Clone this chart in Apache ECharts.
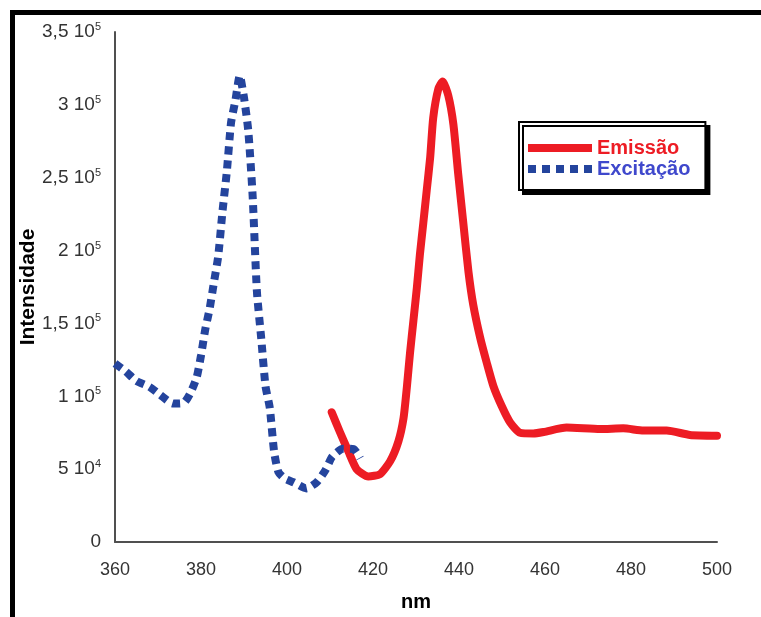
<!DOCTYPE html>
<html>
<head>
<meta charset="utf-8">
<script src="https://cdn.jsdelivr.net/npm/echarts@6/dist/echarts.min.js"></script>
<style>
html,body{margin:0;padding:0;background:#fff;overflow:hidden;}
#chart{width:761px;height:617px;}
</style>
</head>
<body>
<div id="chart"></div>
<script>
// Data (x in nm, y in thousands of counts)
const excitationX = [360, 362.5, 365, 368, 370.5, 373.5, 376, 377.5, 379, 380, 381, 382, 383, 384, 385, 386, 387, 388, 389, 390, 391, 392, 393, 394, 395, 396, 397, 398, 399.5, 401.5, 404.5, 407, 409, 410.5, 413, 415.5, 417];
const excitationY = [122.5, 117, 110.5, 106.5, 101, 95, 95.5, 102, 113, 128, 146, 160, 178, 196, 227, 254, 288, 303, 320, 305, 282, 238, 172, 140, 107, 92, 62, 48, 43.5, 41, 36.8, 41.3, 49.6, 58.5, 64, 63.7, 57.4];

const emissionX = [410.4, 412.3, 414.3, 416.2, 418.9, 421.6, 424, 425.9, 427.1, 427.9, 428.6, 429.4, 430.2, 430.9, 431.7, 432.5, 433.3, 434, 435.2, 436.2, 437.5, 438.7, 439.8, 441, 442.2, 443.3, 444.9, 446.5, 448, 449.9, 451.9, 454.2, 457.3, 459.7, 465, 472.8, 478.2, 482.9, 488.3, 493.7, 500];
const emissionY = [89, 75.5, 62, 50, 45, 46.5, 55.5, 69, 85, 107, 129.5, 152, 174.5, 197, 219, 241.5, 264, 291, 311, 316, 306.5, 286.5, 253, 219, 185.5, 163, 140.5, 122.5, 107, 93.5, 82, 75, 74.5, 75.5, 78.5, 77.5, 78, 76.5, 76.5, 73.5, 73];

const seriesNames = ['Emissão', 'Excitação'];
const yTickValues = [0, 50000, 100000, 150000, 200000, 250000, 300000, 350000];
const yTickMantissa = ['0', '5', '1', '1,5', '2', '2,5', '3', '3,5'];
const yTickExponent = ['', '4', '5', '5', '5', '5', '5', '5'];

const toPairs = (xs, ys) => xs.map((x, i) => [x, ys[i] * 1000]);

const chart = echarts.init(document.getElementById('chart'), null, {renderer: 'canvas', width: 761, height: 617});
chart.setOption({
  backgroundColor: '#ffffff',
  animation: false,
  grid: {left: 115, width: 602, top: 32, height: 520, containLabel: false},
  xAxis: {
    type: 'value', min: 360, max: 500, interval: 20,
    name: 'nm', nameLocation: 'middle', nameGap: 50, nameMoveOverlap: false,
    nameTextStyle: {fontFamily: 'Liberation Sans', fontWeight: 'bold', fontSize: 20, color: '#000'},
    axisLine: {lineStyle: {color: '#505050', width: 2}},
    axisTick: {show: false},
    splitLine: {show: false},
    axisLabel: {fontFamily: 'Liberation Sans', fontSize: 18, color: '#333', margin: 19}
  },
  yAxis: {
    type: 'value', min: 0, max: 350000, interval: 50000,
    name: 'Intensidade', nameLocation: 'middle', nameGap: 76, nameRotate: 90, nameMoveOverlap: false,
    nameTextStyle: {fontFamily: 'Liberation Sans', fontWeight: 'bold', fontSize: 21, color: '#000'},
    axisLine: {show: true, lineStyle: {color: '#505050', width: 2}},
    axisTick: {show: false},
    splitLine: {show: false},
    axisLabel: {
      fontFamily: 'Liberation Sans', fontSize: 19, color: '#333', margin: 14,
      formatter: function (v) {
        const i = yTickValues.indexOf(v);
        if (i < 0) return '';
        if (!yTickExponent[i]) return yTickMantissa[i];
        return yTickMantissa[i] + ' 10{s|' + yTickExponent[i] + '}';
      },
      rich: {s: {fontFamily: 'Liberation Sans', fontSize: 11, color: '#333', padding: [0, 0, 10, 0]}}
    }
  },
  legend: {
    orient: 'vertical', left: 519, top: 122,
    padding: [16, 15, 11, 9], itemGap: 1, itemWidth: 64, itemHeight: 8,
    backgroundColor: '#fff', borderColor: '#000', borderWidth: 2,
    shadowColor: '#000', shadowBlur: 0, shadowOffsetX: 4, shadowOffsetY: 4,
    textStyle: {fontFamily: 'Liberation Sans', fontWeight: 'bold', fontSize: 20},
    data: [
      {name: seriesNames[0], icon: 'rect', itemStyle: {color: '#ED1C24'}, textStyle: {color: '#ED1C24'}},
      {name: seriesNames[1], icon: 'path://M0,0h8v8h-8zM14,0h8v8h-8zM28,0h8v8h-8zM42,0h8v8h-8zM56,0h8v8h-8z', itemStyle: {color: '#24449D'}, textStyle: {color: '#3F48CC'}}
    ]
  },
  graphic: [
    {type: 'rect', shape: {x: 10, y: 10, width: 751, height: 5}, style: {fill: '#000'}},
    {type: 'rect', shape: {x: 10, y: 10, width: 5, height: 607}, style: {fill: '#000'}}
  ],
  series: [
    {
      name: seriesNames[0], type: 'line', data: toPairs(emissionX, emissionY),
      symbol: 'none', smooth: 0.2, z: 2,
      lineStyle: {color: '#ED1C24', width: 8, cap: 'round', join: 'round'},
      itemStyle: {color: '#ED1C24'}
    },
    {
      name: seriesNames[1], type: 'line', data: toPairs(excitationX, excitationY),
      symbol: 'none', smooth: 0.2, z: 3,
      lineStyle: {color: '#24449D', width: 8, type: [8, 6], cap: 'butt'},
      itemStyle: {color: '#24449D'}
    }
  ]
});
</script>
</body>
</html>
